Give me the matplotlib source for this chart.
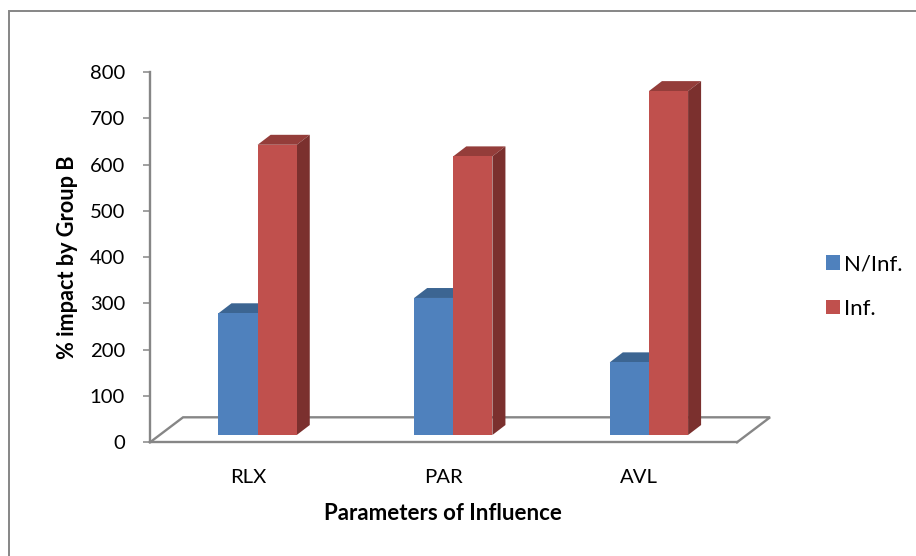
import matplotlib
matplotlib.use("Agg")
import matplotlib.pyplot as plt
from matplotlib.lines import Line2D

plt.rcParams['font.family'] = ['Lato', 'DejaVu Sans']

categories = ["RLX", "PAR", "AVL"]
series_names = ["N/Inf.", "Inf."]
non_influence = [263, 296, 157]
influence = [627, 602, 743]
y_ticks = [0, 100, 200, 300, 400, 500, 600, 700, 800]

W, H = 916, 556
GRAY = "#868686"
faces = ["#4F81BD", "#C0504D"]
tops = ["#3C6592", "#943D3A"]
sides = ["#355A82", "#7B302E"]

fig = plt.figure(figsize=(W / 100, H / 100), dpi=100, facecolor="white")
ax = fig.add_axes([150 / W, 1 - 442.3 / H, (737 - 150) / W, (442.3 - 72) / H])
ax.set_xlim(-0.5, 2.5)
ax.set_ylim(0, 800)
ax.patch.set_alpha(0)

# chart frame: only the left and top edges fall inside the picture
fig.add_artist(Line2D([8.5 / W, 8.5 / W, 1.0], [0.0, 1 - 10.7 / H, 1 - 10.7 / H],
                      transform=fig.transFigure, color=GRAY, linewidth=1.4,
                      solid_joinstyle="miter"))

# 3D-look parameters (axis units)
bar_w = 0.2
pair_shift = 0.05
base = 15.8
dx = 0.0665
dy = 21.5

# floor
floor_dx, floor_dy = 0.169, 54
ax.plot([-0.5, -0.5 + floor_dx, 2.5 + floor_dx, 2.5], [0, floor_dy, floor_dy, 0],
        color=GRAY, lw=1.7, clip_on=False, zorder=1, solid_joinstyle="miter")

xs = list(range(len(categories)))
for s, (vals, name) in enumerate(zip([non_influence, influence], series_names)):
    lefts = [x + pair_shift + (s - 1) * bar_w for x in xs]
    ax.bar(lefts, vals, width=bar_w, bottom=base, align="edge", color=faces[s],
           linewidth=0, zorder=4 + s, label=name)
    for l, v in zip(lefts, vals):
        r = l + bar_w
        t = base + v
        ax.fill([l, l + dx, r + dx, r], [t, t + dy, t + dy, t],
                color=tops[s], lw=0, zorder=3 + s, clip_on=False)
        ax.fill([r, r + dx, r + dx, r], [base, base + dy, t + dy, t],
                color=sides[s], lw=0, zorder=3 + s, clip_on=False)

for sp in ["top", "right"]:
    ax.spines[sp].set_visible(False)
for sp in ["left", "bottom"]:
    ax.spines[sp].set_color(GRAY)
    ax.spines[sp].set_linewidth(1.7)

ax.set_yticks(y_ticks)
ax.set_xticks(xs)
ax.set_xticklabels(categories)
ax.tick_params(axis="y", length=5, width=1.1, color=GRAY, labelsize=14.6, pad=13, labelcolor="black")
ax.tick_params(axis="x", length=0, labelsize=14.6, pad=19, labelcolor="black")

fig.text(68 / W, 1 - 257.5 / H, "% impact by Group B", rotation=90, ha="center", va="center",
         fontsize=15.6, fontweight="bold")
fig.text(443.3 / W, 1 - 513.5 / H, "Parameters of Influence", ha="center", va="center",
         fontsize=16, fontweight="bold")

handles, labels = ax.get_legend_handles_labels()
fig.legend(handles, labels, loc="center left", bbox_to_anchor=(826 / W, 1 - 286.5 / H),
           frameon=False, fontsize=16, handlelength=0.63, handleheight=0.63,
           handletextpad=0.2, labelspacing=1.1, borderpad=0, borderaxespad=0)

fig.savefig("out.png", dpi=100)
